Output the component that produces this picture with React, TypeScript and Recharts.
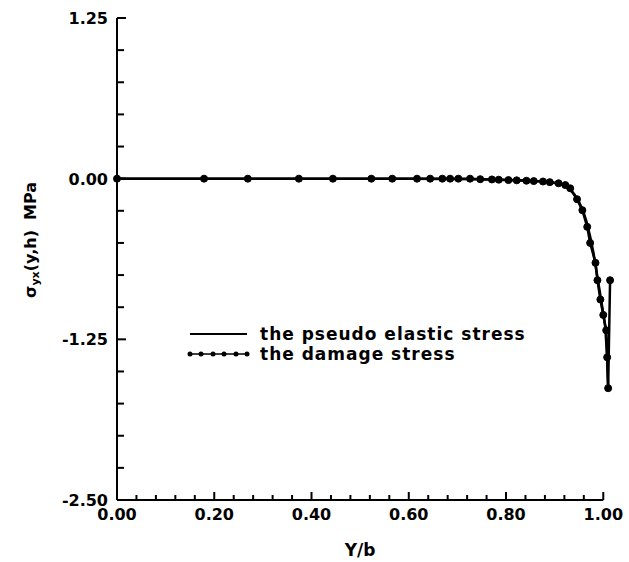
import React from 'react';
import { LineChart, Line, XAxis, YAxis, Legend, ReferenceLine } from 'recharts';

// damage stress (with markers)
const damageX = [
  0, 0.179, 0.269, 0.374, 0.444, 0.523, 0.566, 0.617, 0.644, 0.669, 0.685, 0.702, 0.726,
  0.747, 0.771, 0.785, 0.805, 0.822, 0.842, 0.857, 0.876, 0.89, 0.908, 0.922, 0.932, 0.946,
  0.957, 0.967, 0.973, 0.984, 0.988, 0.994, 1.0, 1.006, 1.008, 1.01, 1.014,
];
const damageY = [
  0, 0, 0, 0, 0, 0, 0, 0, 0, 0, 0, 0, 0,
  -0.004, -0.006, -0.008, -0.011, -0.013, -0.016, -0.019, -0.022, -0.027, -0.036, -0.05, -0.075, -0.16,
  -0.245, -0.375, -0.5, -0.655, -0.79, -0.94, -1.06, -1.18, -1.39, -1.63, -0.79,
];

// pseudo elastic stress (plain line)
const elasticX = [
  0, 0.2, 0.4, 0.6, 0.75, 0.8, 0.85, 0.875, 0.9, 0.915, 0.93, 0.94, 0.95, 0.958, 0.966,
  0.973, 0.98, 0.986, 0.992, 0.998, 1.004, 1.008, 1.01,
];
const elasticY = [
  0, 0, 0, 0, -0.005, -0.01, -0.016, -0.022, -0.033, -0.048, -0.08, -0.12, -0.18, -0.245, -0.34,
  -0.45, -0.58, -0.72, -0.86, -1.0, -1.15, -1.39, -1.63,
];

const xTicks = [
  0, 0.04, 0.08, 0.12, 0.16, 0.2, 0.24, 0.28, 0.32, 0.36, 0.4, 0.44, 0.48, 0.52, 0.56, 0.6,
  0.64, 0.68, 0.72, 0.76, 0.8, 0.84, 0.88, 0.92, 0.96, 1.0,
];
const yTicks = [
  -2.5, -2.25, -2, -1.75, -1.5, -1.25, -1, -0.75, -0.5, -0.25, 0, 0.25, 0.5, 0.75, 1, 1.25,
];

const seriesNames = ['the pseudo elastic stress', 'the damage stress'];

const damage = damageX.map((x, i) => ({ x, y: damageY[i] }));
const elastic = elasticX.map((x, i) => ({ x, y: elasticY[i] }));

const FONT = '"DejaVu Sans", Verdana, sans-serif';
const INK = '#000';

const isMajorX = (v: number) => Math.round(v * 100) % 20 === 0;
const isMajorY = (v: number) => Math.round(v * 100) % 125 === 0;

function XTick({ x, y, payload }: any) {
  const major = isMajorX(payload.value);
  return (
    <g>
      <line x1={x} x2={x} y1={y} y2={y - (major ? 8 : 5)} stroke={INK} strokeWidth={2} />
      {major && (
        <text x={x} y={y + 20} textAnchor="middle" fontFamily={FONT} fontWeight="bold" fontSize={16} fill={INK}>
          {payload.value.toFixed(2)}
        </text>
      )}
    </g>
  );
}

function YTick({ x, y, payload }: any) {
  const major = isMajorY(payload.value);
  return (
    <g>
      <line x1={x} x2={x + (major ? 9 : 7)} y1={y} y2={y} stroke={INK} strokeWidth={2} />
      {major && (
        <text x={x - 9} y={y + 6} textAnchor="end" fontFamily={FONT} fontWeight="bold" fontSize={16} fill={INK}>
          {payload.value.toFixed(2)}
        </text>
      )}
    </g>
  );
}

function YTitle({ viewBox }: any) {
  const cx = viewBox.x + 30;
  const cy = 240;
  return (
    <text
      x={cx}
      y={cy}
      transform={`rotate(-90, ${cx}, ${cy})`}
      textAnchor="middle"
      dominantBaseline="central"
      fontFamily={FONT}
      fontWeight="bold"
      fontSize={16}
      fill={INK}
    >
      σ<tspan fontSize={11} dy={5}>yx</tspan>
      <tspan dy={-5}>(y,h)</tspan>
      <tspan dx={10}>MPa</tspan>
    </text>
  );
}

function XTitle({ viewBox }: any) {
  return (
    <text
      x={viewBox.x + 243}
      y={viewBox.y + 56}
      textAnchor="middle"
      fontFamily={FONT}
      fontWeight="bold"
      fontSize={17}
      fill={INK}
    >
      Y/b
    </text>
  );
}

function LegendBox() {
  const rowStyle: React.CSSProperties = { display: 'flex', alignItems: 'center', height: 20 };
  const textStyle: React.CSSProperties = {
    fontFamily: FONT,
    fontWeight: 'bold',
    fontSize: 17,
    letterSpacing: 1,
    color: INK,
    whiteSpace: 'nowrap',
  };
  const dots = [4, 15, 27, 38, 50, 61];
  return (
    <div>
      <div style={rowStyle}>
        <svg width={74} height={20}>
          <line x1={4} x2={61} y1={10} y2={10} stroke={INK} strokeWidth={2} />
        </svg>
        <span style={textStyle}>{seriesNames[0]}</span>
      </div>
      <div style={rowStyle}>
        <svg width={74} height={20}>
          <line x1={4} x2={61} y1={10} y2={10} stroke={INK} strokeWidth={1.5} />
          {dots.map((d) => (
            <circle key={d} cx={d} cy={10} r={2.5} fill={INK} />
          ))}
        </svg>
        <span style={textStyle}>{seriesNames[1]}</span>
      </div>
    </div>
  );
}

export default function App() {
  return (
    <div style={{ position: 'absolute', left: 0, top: 0, background: '#fff' }}>
      <LineChart width={629} height={562} margin={{ top: 18, right: 16, bottom: 0, left: 0 }}>
        <XAxis
          type="number"
          dataKey="x"
          domain={[0, 1.02]}
          ticks={xTicks}
          tick={<XTick />}
          tickSize={0}
          tickMargin={0}
          tickLine={false}
          axisLine={false}
          height={62}
          interval={0}
          label={{ content: <XTitle /> }}
        />
        <YAxis
          type="number"
          dataKey="y"
          domain={[-2.5, 1.25]}
          ticks={yTicks}
          tick={<YTick />}
          tickSize={0}
          tickMargin={0}
          tickLine={false}
          axisLine={{ stroke: INK, strokeWidth: 2 }}
          width={117}
          interval={0}
          label={{ content: <YTitle /> }}
        />
        <ReferenceLine
          segment={[{ x: 0, y: -2.5 }, { x: 1, y: -2.5 }]}
          stroke={INK}
          strokeWidth={2}
          ifOverflow="visible"
        />
        <Line
          data={elastic}
          dataKey="y"
          type="linear"
          stroke={INK}
          strokeWidth={2.5}
          dot={false}
          isAnimationActive={false}
        />
        <Line
          data={damage}
          dataKey="y"
          type="linear"
          stroke={INK}
          strokeWidth={2.5}
          dot={{ r: 3.5, fill: INK, stroke: INK, strokeWidth: 1 }}
          isAnimationActive={false}
        />
        <Legend
          layout="vertical"
          align="center"
          verticalAlign="middle"
          content={<LegendBox />}
          wrapperStyle={{ left: 186, top: 324, width: 'auto' }}
        />
      </LineChart>
    </div>
  );
}
